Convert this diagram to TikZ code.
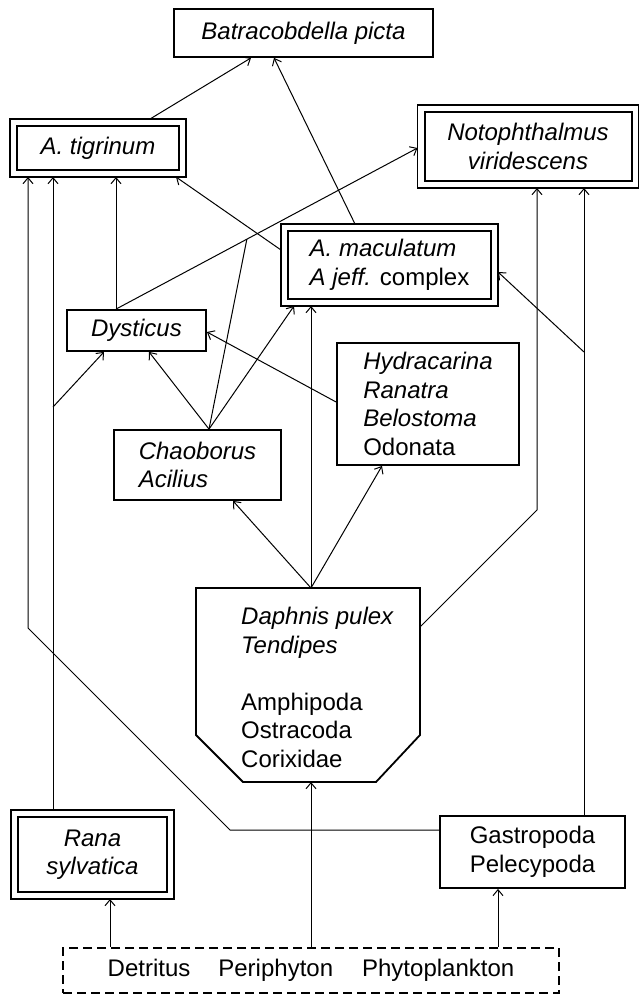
\documentclass[tikz,border=0pt]{standalone}
\usepackage{fontspec}
\setmainfont{Liberation Sans}
\usetikzlibrary{arrows.meta,calc}
\begin{document}
\begin{tikzpicture}[x=1pt,y=-1pt,
  every node/.style={font=\fontsize{24}{28.5}\selectfont},
  box/.style={draw, line width=1.8pt, inner sep=0pt, align=center},
  dbl/.style={box, line width=2pt, outer sep=7pt},
  frame/.style={line width=1.4pt},
  conn/.style={line width=1pt, -{Straight Barb[length=6pt,width=10pt]}},
  link/.style={line width=1pt},
  food/.style={draw, line width=1.6pt, dash pattern=on 9pt off 5pt, inner sep=0pt}
]
\useasboundingbox (0,0) rectangle (640,995);

% predators and prey
\node[box, minimum width=259pt, minimum height=48pt] (bat) at (303.5,33) {\textit{Batracobdella picta}};

\node[dbl, minimum width=162pt, minimum height=44pt] (tig) at (98,148) {\textit{A. tigrinum}};
\draw[frame] (tig.north west) rectangle (tig.south east);

\node[dbl, minimum width=207pt, minimum height=69pt] (noto) at (528,146.5) {\textit{Notophthalmus}\\\textit{viridescens}};
\draw[frame] (noto.north west) rectangle (noto.south east);

\node[dbl, minimum width=203pt, minimum height=68pt, align=left] (mac) at (389.5,265) {\textit{A. maculatum}\\\textit{A jeff.} complex};
\draw[frame] (mac.north west) rectangle (mac.south east);

\node[box, minimum width=139pt, minimum height=41pt] (dys) at (136.5,330.5) {\textit{Dysticus}};

\node[box, minimum width=182pt, minimum height=122pt, align=left] (hyd) at (428,404) {\textit{Hydracarina}\\\textit{Ranatra}\\\textit{Belostoma}\\Odonata};

\node[box, minimum width=167pt, minimum height=70pt, align=left] (cha) at (197.5,465) {\textit{Chaoborus}\\\textit{Acilius}};

% chamfered prey box
\node[minimum width=224pt, minimum height=194pt, inner sep=0pt, outer sep=0pt] (daph) at (308,685) {};
\draw[line width=1.8pt, line join=miter]
  (daph.north west) -- (daph.north east) -- ($(daph.south east)+(0,-47)$)
  -- ($(daph.south east)+(-44,0)$) -- ($(daph.south west)+(47,0)$)
  -- ($(daph.south west)+(0,-47)$) -- cycle;
\node[anchor=west, align=left, inner sep=0pt] (daphtxt) at (241,687.5)
  {\textit{Daphnis pulex}\\\textit{Tendipes}\\[28.5pt]Amphipoda\\Ostracoda\\Corixidae};

\node[dbl, minimum width=149pt, minimum height=75pt] (rana) at (92.5,854.5) {\textit{Rana}\\\textit{sylvatica}};
\draw[frame] (rana.north west) rectangle (rana.south east);

\node[box, minimum width=185pt, minimum height=72pt, align=left] (gas) at (532.5,852) {Gastropoda\\Pelecypoda};

\node[food, minimum width=496pt, minimum height=45pt] (det) at (311,970.5)
  {Detritus\hspace{28pt}Periphyton\hspace{29pt}Phytoplankton};

% feeding links
\draw[conn] (tig.north -| 150,0) -- (bat.south -| 251,0);
\draw[conn] (mac.north -| 355,0) -- (bat.south -| 274,0);
\draw[conn] (mac.west |- 0,250) -- (tig.south -| 176,0);
\draw[conn] (dys.north -| 116,0) -- (tig.south -| 116,0);
\draw[conn] (dys.north -| 116,0) -- (noto.west |- 0,148);
\coordinate (jn) at ($(dys.north -| 116,0)!0.434!(noto.west |- 0,148)$);
\draw[link] (cha.north -| 209,0) -- (jn);
\draw[conn] (cha.north -| 209,0) -- (dys.south -| 149,0);
\draw[conn] (cha.north -| 209,0) -- (mac.south -| 294,0);
\draw[conn] (hyd.west |- 0,402) -- (dys.east |- 0,332);
\draw[conn] (daph.north -| 311,0) -- (cha.south -| 233,0);
\draw[conn] (daph.north -| 311,0) -- (hyd.south -| 382,0);
\draw[conn] (daph.north -| 311,0) -- (mac.south -| 311,0);
\draw[conn] (daph.east |- 0,627) -- (537,510) -- (noto.south -| 537,0);
\draw[conn] (gas.north -| 584,0) -- (noto.south -| 584,0);
\coordinate (gb) at (584,352);
\draw[conn] (gb) -- (mac.east |- 0,272);
\draw[conn] (gas.west |- 0,830) -- (230,830) -- (28,628) -- (tig.south -| 28,0);
\draw[conn] (rana.north -| 53,0) -- (tig.south -| 53,0);
\coordinate (rb) at (53,407);
\draw[conn] (rb) -- (dys.south -| 104,0);
\draw[conn] (det.north -| 110,0) -- (rana.south -| 110,0);
\draw[conn] (det.north -| 311,0) -- (daph.south -| 311,0);
\draw[conn] (det.north -| 498,0) -- (gas.south -| 498,0);
\end{tikzpicture}
\end{document}
